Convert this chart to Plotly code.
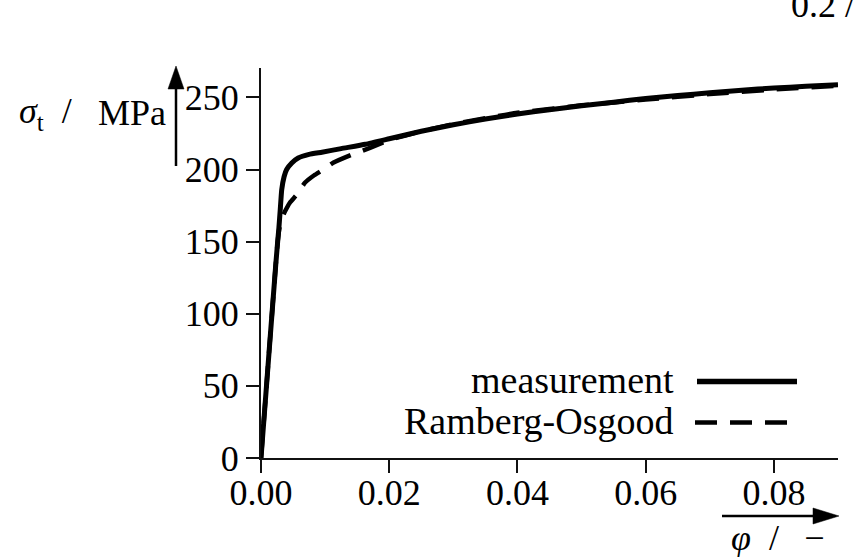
import plotly.graph_objects as go

# True strain and true stress (MPa) of the tensile test
meas_strain = [0, 0.00125, 0.0023, 0.0026, 0.0028, 0.0030, 0.00323, 0.0036, 0.0040,
               0.0048, 0.0058, 0.0075, 0.0095, 0.0125, 0.0163, 0.02, 0.025, 0.03,
               0.035, 0.04, 0.045, 0.05, 0.055, 0.06, 0.065, 0.07, 0.075, 0.08,
               0.085, 0.09]
meas_stress = [0, 73, 134, 150, 160, 172, 186, 195, 200,
               204.5, 208, 210.5, 212, 214.5, 217.5, 221.3, 226.5, 231,
               235, 238.5, 241.5, 244.2, 246.7, 249.2, 251.3, 253.2, 255, 256.5,
               257.7, 258.8]

# Ramberg-Osgood fit of the same test
ro_strain = [0, 0.00125, 0.0023, 0.0026, 0.0029, 0.0033, 0.00375, 0.0045, 0.00558,
             0.00688, 0.0083, 0.00973, 0.01125, 0.01417, 0.017, 0.02, 0.025, 0.03,
             0.04, 0.05, 0.06, 0.07, 0.08, 0.09]
ro_stress = [0, 73, 134, 150, 160, 166.5, 171, 177, 182.5,
             191, 196, 200, 204.7, 210.3, 215, 220.5, 226.5, 231.5,
             239.3, 244.5, 248.5, 252.3, 255.5, 258]

x_ticks = [0.0, 0.02, 0.04, 0.06, 0.08]
x_tick_text = ["0.00", "0.02", "0.04", "0.06", "0.08"]
y_ticks = [0, 50, 100, 150, 200, 250]
y_tick_text = ["0", "50", "100", "150", "200", "250"]
legend_names = ["measurement", "Ramberg-Osgood"]

W, H = 862, 557
L, R, T, B = 261, 24, 68, 99
PW, PH = W - L - R, H - T - B
FONT = "Liberation Serif"


def px(x):
    return (x - L) / PW


def py(y):
    return (H - B - y) / PH


fig = go.Figure()
fig.add_trace(go.Scatter(x=meas_strain, y=meas_stress, mode="lines",
                         line=dict(color="black", width=5, shape="spline", smoothing=0.4),
                         name=legend_names[0], showlegend=False, cliponaxis=False))
fig.add_trace(go.Scatter(x=ro_strain, y=ro_stress, mode="lines",
                         line=dict(color="black", width=4.5, dash="22px,13px",
                                   shape="spline", smoothing=0.4),
                         name=legend_names[1], showlegend=False, cliponaxis=False))

axis_common = dict(showline=True, linecolor="#111", linewidth=2, ticks="outside",
                   ticklen=13, tickwidth=2, tickcolor="#111", showgrid=False,
                   zeroline=False, tickfont=dict(family=FONT, size=36, color="black"))

fig.update_xaxes(range=[0, 0.09], tickvals=x_ticks, ticktext=x_tick_text,
                 ticklabelstandoff=-11, **axis_common)
fig.update_yaxes(range=[0, PH / 1.4424], tickvals=y_ticks, ticktext=y_tick_text,
                 **axis_common)

shapes = []
# axis arrows next to the axis titles
shapes.append(dict(type="line", xref="paper", yref="paper", x0=px(176), x1=px(176),
                   y0=py(166), y1=py(86), line=dict(color="black", width=2.5)))
shapes.append(dict(type="path", xref="paper", yref="paper",
                   path=f"M{px(176)},{py(66)} L{px(168)},{py(89)} L{px(184)},{py(89)} Z",
                   fillcolor="black", line=dict(color="black", width=0.5)))
shapes.append(dict(type="line", xref="paper", yref="paper", x0=px(722), x1=px(815),
                   y0=py(516), y1=py(516), line=dict(color="black", width=2.5)))
shapes.append(dict(type="path", xref="paper", yref="paper",
                   path=f"M{px(839)},{py(516)} L{px(813)},{py(508)} L{px(813)},{py(524)} Z",
                   fillcolor="black", line=dict(color="black", width=0.5)))
# legend samples
shapes.append(dict(type="line", xref="paper", yref="paper", x0=px(697), x1=px(797),
                   y0=py(381.5), y1=py(381.5), line=dict(color="black", width=5.5)))
shapes.append(dict(type="line", xref="paper", yref="paper", x0=px(695), x1=px(790),
                   y0=py(422.5), y1=py(422.5),
                   line=dict(color="black", width=4.5, dash="22px,13px")))
fig.update_layout(shapes=shapes)

txt = dict(family=FONT, size=36, color="black")
leg = dict(family=FONT, size=38, color="black")
ann = [
    # y-axis title: quantity and unit set apart
    dict(text="<i>σ</i><sub>t</sub>\u2002/", x=px(74), y=py(113),
         xanchor="right", yanchor="middle", font=txt),
    dict(text="MPa", x=px(168), y=py(113), xanchor="right", yanchor="middle", font=txt),
    dict(text="<i>φ</i>\u2002/\u2002\u2009−", x=px(826), y=py(538), xanchor="right",
         yanchor="middle", font=txt),
    dict(text=legend_names[0], x=px(676), y=py(380), xanchor="right", yanchor="middle",
         font=leg),
    dict(text=legend_names[1], x=px(676), y=py(421), xanchor="right", yanchor="middle",
         font=leg),
    dict(text="0.2 / ", x=px(789), y=py(27), xanchor="left", yanchor="bottom", font=txt),
]
for a in ann:
    a.update(xref="paper", yref="paper", showarrow=False)
fig.update_layout(annotations=ann)

fig.update_layout(width=W, height=H, margin=dict(l=L, r=R, t=T, b=B, pad=0),
                  paper_bgcolor="white", plot_bgcolor="white", showlegend=False)

fig.write_html("out.html")
